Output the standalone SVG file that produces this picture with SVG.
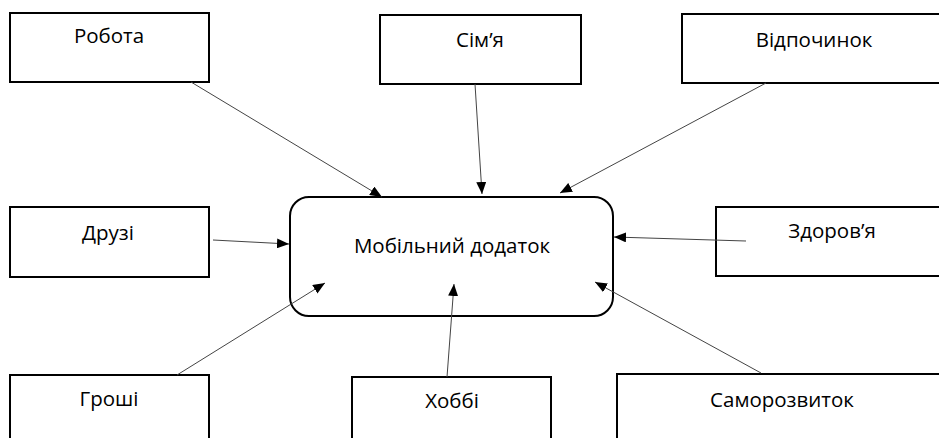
<svg xmlns="http://www.w3.org/2000/svg" width="939" height="438" viewBox="0 0 939 438">
<style>
.box{fill:#fff;stroke:#000;stroke-width:2}
.lbl{font-family:"Open Sans","Liberation Sans",sans-serif;font-size:20.5px;fill:#000;text-anchor:middle}
.con{stroke:#444;stroke-width:1;fill:none;marker-end:url(#ah)}
</style>
<defs>
<marker id="ah" viewBox="0 0 12 10" refX="12" refY="5" markerWidth="12" markerHeight="10" markerUnits="userSpaceOnUse" orient="auto">
<path d="M0,0 L12,5 L0,10 Z" fill="#000"/>
</marker>
</defs>
<rect width="939" height="438" fill="#fff"/>
<g id="main"><rect class="box" x="290" y="197" width="323" height="119" rx="19" ry="19"/><text class="lbl" x="452" y="253">Мобільний додаток</text></g>
<g id="robota"><rect class="box" x="10" y="13" width="199" height="69"/><text class="lbl" x="109" y="43">Робота</text></g>
<g id="simya"><rect class="box" x="380" y="15" width="201" height="69"/><text class="lbl" x="480" y="47">Сім’я</text></g>
<g id="vidpochynok"><rect class="box" x="682" y="14" width="270" height="69"/><text class="lbl" x="814" y="47">Відпочинок</text></g>
<g id="druzi"><rect class="box" x="10" y="207" width="199" height="70"/><text class="lbl" x="108" y="240">Друзі</text></g>
<g id="zdorovya"><rect class="box" x="716" y="207" width="240" height="69"/><text class="lbl" x="832" y="238">Здоров’я</text></g>
<g id="groshi"><rect class="box" x="10" y="375" width="199" height="80"/><text class="lbl" x="109" y="406">Гроші</text></g>
<g id="hobbi"><rect class="box" x="352" y="377" width="199" height="80"/><text class="lbl" x="452" y="408">Хоббі</text></g>
<g id="samorozvytok"><rect class="box" x="617" y="374" width="340" height="80"/><text class="lbl" x="782" y="407">Саморозвиток</text></g>
<g id="connectors">
<line class="con" x1="191" y1="82" x2="382" y2="197"/>
<line class="con" x1="475" y1="84" x2="482" y2="194"/>
<line class="con" x1="766" y1="83" x2="560" y2="193"/>
<line class="con" x1="213" y1="240" x2="289" y2="244"/>
<line class="con" x1="746" y1="241" x2="614" y2="237"/>
<line class="con" x1="761" y1="373" x2="595" y2="282"/>
<line class="con" x1="447" y1="377" x2="454" y2="284"/>
<line class="con" x1="177" y1="375" x2="325" y2="283"/>
</g>
</svg>
